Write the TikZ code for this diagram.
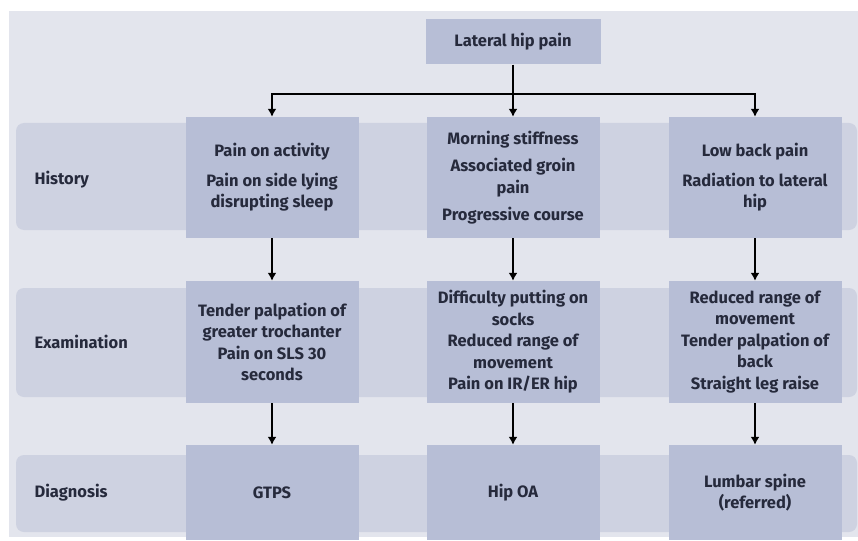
\documentclass[tikz,border=0pt]{standalone}
\usepackage{fontspec}
\setmainfont{Fira Sans}
\usetikzlibrary{arrows.meta}
\definecolor{Page}{HTML}{E3E5ED}
\definecolor{Band}{HTML}{CED2E1}
\definecolor{Slate}{HTML}{B7BED6}
\definecolor{Navy}{HTML}{262A3C}

\begin{document}
\begin{tikzpicture}[x=1pt,y=-1pt,every node/.style={font=\fontsize{16.5}{21.5}\selectfont\bfseries,text=Navy},
  box/.style={fill=Slate,minimum width=173pt,align=center,inner sep=0pt},
  band/.style={fill=Band,rounded corners=8pt,minimum width=841pt,inner sep=0pt},
  arr/.style={-{Latex[length=8pt,width=9pt]},line width=2pt}]
\useasboundingbox (0,0) rectangle (858,540);
\fill[white] (0,0) rectangle (858,540);
\fill[Page] (9,11) rectangle (858,537);
% row bands
\node[band,minimum height=107pt] (histband) at (436.5,176.5) {};
\node[band,minimum height=109pt] (examband) at (436.5,342.5) {};
\node[band,minimum height=77pt] (diagband) at (436.5,493.5) {};
\node[anchor=west] (histlbl) at (31,180) {History};
\node[anchor=west] (examlbl) at (31,342) {Examination};
\node[anchor=west] (diaglbl) at (31,493) {Diagnosis};
% boxes
\node[box,minimum width=175pt,minimum height=45pt] (top) at (513,42) {Lateral hip pain};
\node[box,minimum height=121pt] (hist1) at (272,177.5) {Pain on activity\\[8pt]Pain on side lying\\disrupting sleep};
\node[box,minimum height=121pt] (hist2) at (513,177.5) {Morning stiffness\\[6pt]Associated groin\\pain\\[6pt]Progressive course};
\node[box,minimum height=121pt] (hist3) at (755,177.5) {Low back pain\\[8pt]Radiation to lateral\\hip};
\node[box,minimum height=122pt] (exam1) at (272,342) {Tender palpation of\\greater trochanter\\Pain on SLS 30\\seconds};
\node[box,minimum height=122pt] (exam2) at (513,342) {Difficulty putting on\\socks\\Reduced range of\\movement\\Pain on IR/ER hip};
\node[box,minimum height=122pt] (exam3) at (755,342) {Reduced range of\\movement\\Tender palpation of\\back\\Straight leg raise};
\node[box,minimum height=95pt] (diag1) at (272,492.5) {GTPS};
\node[box,minimum height=95pt] (diag2) at (513,492.5) {Hip OA};
\node[box,minimum height=95pt] (diag3) at (755,492.5) {Lumbar spine\\(referred)};
% arrows
\coordinate (split) at (513,94);
\draw[arr] (top.south) -- (hist2.north);
\draw[arr] (split) -| (hist1.north);\draw[arr] (split) -| (hist3.north);
\draw[arr] (hist1.south) -- (exam1.north);\draw[arr] (exam1.south) -- (diag1.north);
\draw[arr] (hist2.south) -- (exam2.north);\draw[arr] (exam2.south) -- (diag2.north);
\draw[arr] (hist3.south) -- (exam3.north);\draw[arr] (exam3.south) -- (diag3.north);
\end{tikzpicture}
\end{document}
